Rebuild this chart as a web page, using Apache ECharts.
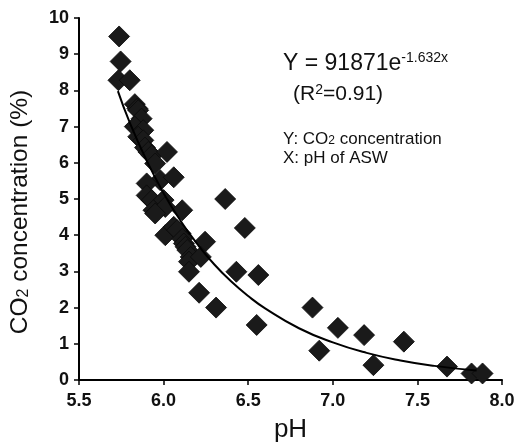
<!DOCTYPE html>
<html>
<head>
<meta charset="utf-8">
<script src="https://cdn.jsdelivr.net/npm/echarts@6/dist/echarts.min.js"></script>
<style>html,body{margin:0;padding:0;background:#fff}#c{width:515px;height:443px}</style>
</head>
<body>
<div id="c"></div>
<script>
// Measured points (pH, CO2 %)
const phValues = [5.737,5.746,5.733,5.800,5.83,5.845,5.85,5.87,5.83,5.88,5.85,5.88,5.89,5.91,5.93,
  6.02,5.95,5.98,6.06,5.90,5.90,5.93,6.00,5.94,6.01,5.95,6.11,6.01,6.06,6.10,6.08,6.11,6.12,6.13,6.14,6.16,6.15,6.15,
  6.245,6.22,6.364,6.48,6.43,6.56,6.21,6.31,6.55,6.88,6.92,7.03,7.185,7.24,7.42,7.675,7.82,7.885];
const co2Values = [9.49,8.80,8.28,8.28,7.62,7.50,7.45,7.22,7.00,6.90,6.72,6.62,6.42,6.30,6.20,
  6.30,5.98,5.52,5.60,5.43,5.10,4.97,4.97,4.69,4.78,4.60,4.69,4.00,4.23,4.05,4.14,3.90,3.77,3.68,3.59,3.40,3.27,2.99,
  3.82,3.40,5.00,4.20,2.99,2.90,2.41,2.00,1.52,2.00,0.81,1.44,1.24,0.41,1.06,0.37,0.18,0.18];
// Trend curve
const trendX = [5.73,5.8,5.9,6.0,6.1,6.2,6.3,6.4,6.5,6.6,6.8,7.0,7.2,7.4,7.6,7.85];
const trendY = [7.98,7.11,6.06,5.16,4.40,3.75,3.19,2.72,2.32,1.98,1.43,1.04,0.75,0.54,0.39,0.26];
const xTicks = ['5.5','6.0','6.5','7.0','7.5','8.0'];

const chart = echarts.init(document.getElementById('c'));
const font = 'Liberation Sans, Arial, sans-serif';
chart.setOption({
  animation: false,
  backgroundColor: '#fff',
  grid: {left: 79, right: 13, top: 18, bottom: 63, containLabel: false, outerBoundsMode: 'none'},
  xAxis: {
    type: 'value', min: 5.5, max: 8.0, interval: 0.5,
    axisLine: {lineStyle: {color: '#000', width: 2}},
    axisTick: {show: true, length: 5, lineStyle: {color: '#000', width: 1.5}},
    splitLine: {show: false},
    axisLabel: {color: '#111', fontFamily: font, fontWeight: 'bold', fontSize: 18, margin: 12,
      formatter: v => xTicks[Math.round((v - 5.5) / 0.5)]},
    name: 'pH', nameLocation: 'middle', nameGap: 37,
    nameTextStyle: {fontFamily: font, fontSize: 26, color: '#111'}
  },
  yAxis: {
    type: 'value', min: 0, max: 10, interval: 1,
    axisLine: {show: true, lineStyle: {color: '#000', width: 2}},
    axisTick: {show: true, length: 5, lineStyle: {color: '#000', width: 1.5}},
    splitLine: {show: false},
    axisLabel: {color: '#111', fontFamily: font, fontWeight: 'bold', fontSize: 18, margin: 10},
    name: 'CO{s|2} concentration (%)', nameLocation: 'middle', nameGap: 46,
    nameTextStyle: {fontFamily: font, fontSize: 24.5, color: '#111', padding: [0, 26, 0, 0],
      rich: {s: {fontFamily: font, fontSize: 16, color: '#111', padding: [6, 0, 0, 0]}}}
  },
  series: [
    {
      type: 'line', data: trendX.map((x, i) => [x, trendY[i]]), smooth: true, symbol: 'none',
      lineStyle: {color: '#000', width: 2}, z: 3
    },
    {
      type: 'scatter', data: phValues.map((x, i) => [x, co2Values[i]]),
      symbol: 'diamond', symbolSize: 21,
      itemStyle: {color: '#1a1a1a', opacity: 1, borderColor: '#0a0a0a', borderWidth: 0.8}, z: 2
    }
  ],
  graphic: [
    {type: 'text', left: 283, top: 51, style: {
      text: 'Y = 91871e{sup|-1.632x}', fontFamily: font, fontSize: 23, fill: '#111',
      rich: {sup: {fontFamily: font, fontSize: 14, fill: '#111', padding: [0, 0, 12, 0]}}}},
    {type: 'text', left: 293, top: 83, style: {
      text: '(R{sup|2}=0.91)', fontFamily: font, fontSize: 21, fill: '#111',
      rich: {sup: {fontFamily: font, fontSize: 14, fill: '#111', padding: [0, 0, 9, 0]}}}},
    {type: 'text', left: 283, top: 131, style: {
      text: 'Y: CO{sub|2} concentration', fontFamily: font, fontSize: 17, fill: '#111',
      rich: {sub: {fontFamily: font, fontSize: 12, fill: '#111', padding: [3, 0, 0, 0]}}}},
    {type: 'text', left: 283, top: 150, style: {
      text: 'X: pH of ASW', fontFamily: font, fontSize: 17, fill: '#111'}}
  ]
});
</script>
</body>
</html>
